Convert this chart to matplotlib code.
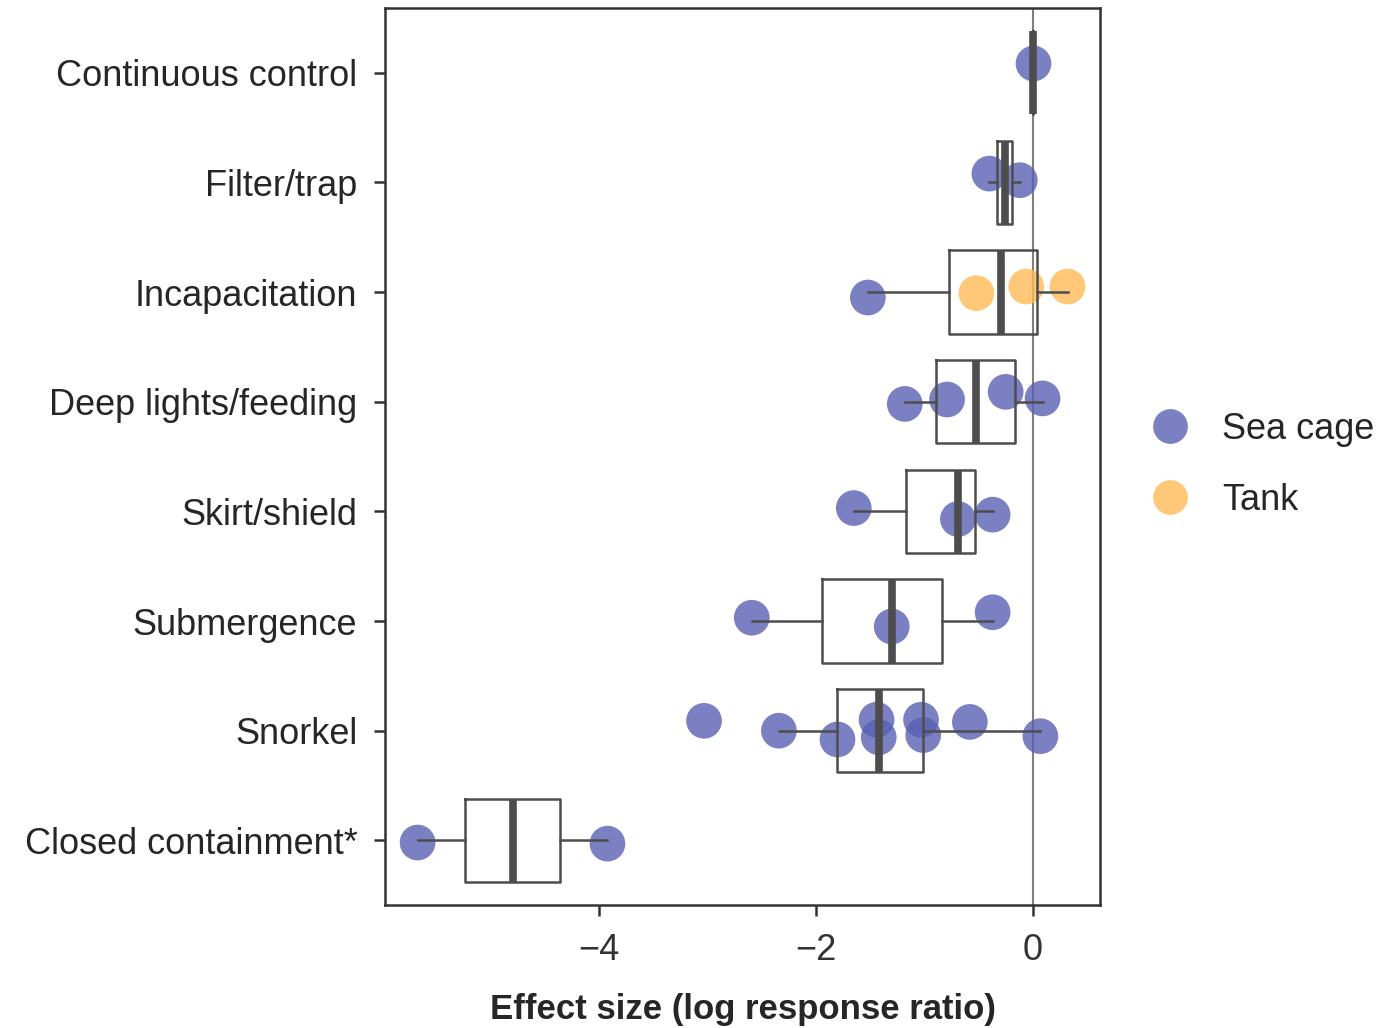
import numpy as np
import matplotlib.pyplot as plt
from matplotlib.lines import Line2D

plt.rcParams['font.family'] = ['Liberation Sans', 'DejaVu Sans']

# categories top to bottom
categories = ["Continuous control", "Filter/trap", "Incapacitation", "Deep lights/feeding",
              "Skirt/shield", "Submergence", "Snorkel", "Closed containment*"]

# effect sizes per category
values = {
    "Continuous control": [0.0],
    "Filter/trap": [-0.40, -0.12],
    "Incapacitation": [-1.52, -0.52, -0.06, 0.32],
    "Deep lights/feeding": [-1.18, -0.79, -0.25, 0.09],
    "Skirt/shield": [-1.65, -0.69, -0.37],
    "Submergence": [-2.59, -1.30, -0.37],
    "Snorkel": [-3.03, -2.34, -1.80, -1.44, -1.42, -1.03, -1.01, -0.58, 0.07],
    "Closed containment*": [-5.67, -3.92],
}
# study setting for each point
setting = {
    "Continuous control": ["Sea cage"],
    "Filter/trap": ["Sea cage", "Sea cage"],
    "Incapacitation": ["Sea cage", "Tank", "Tank", "Tank"],
    "Deep lights/feeding": ["Sea cage"] * 4,
    "Skirt/shield": ["Sea cage"] * 3,
    "Submergence": ["Sea cage"] * 3,
    "Snorkel": ["Sea cage"] * 9,
    "Closed containment*": ["Sea cage"] * 2,
}
# strip jitter as seen in the picture (category units)
jitter = {
    "Continuous control": [-0.09],
    "Filter/trap": [-0.08, -0.02],
    "Incapacitation": [0.05, 0.01, -0.05, -0.05],
    "Deep lights/feeding": [0.02, -0.02, -0.09, -0.03],
    "Skirt/shield": [-0.03, 0.07, 0.03],
    "Submergence": [-0.03, 0.05, -0.08],
    "Snorkel": [-0.09, 0.0, 0.08, -0.10, 0.06, -0.10, 0.04, -0.08, 0.05],
    "Closed containment*": [0.02, 0.03],
}
groups = ["Sea cage", "Tank"]
colors = {"Sea cage": "#5a60b3", "Tank": "#ffba56"}

fig = plt.figure(figsize=(13.86, 10.28), dpi=100)
ax = fig.add_axes([0.2778, 0.1196, 0.5159, 0.8726])

ax.axvline(0, color="#808080", lw=1.5, zorder=0)

for i, cat in enumerate(categories):
    xs = np.array(values[cat])
    ys = i + np.array(jitter[cat])
    cs = [colors[s] for s in setting[cat]]
    ax.scatter(xs, ys, s=660, c=cs, alpha=0.8, linewidths=0, zorder=2)

ax.boxplot([values[c] for c in categories], positions=range(len(categories)),
           vert=False, widths=0.76, showfliers=False, showcaps=False,
           boxprops=dict(color="#4d4d4d", lw=1.8),
           whiskerprops=dict(color="#4d4d4d", lw=1.8),
           medianprops=dict(color="#4d4d4d", lw=5.5),
           zorder=3)

ax.set_xlim(-5.97, 0.62)
ax.set_ylim(7.59, -0.59)
ax.set_yticks(range(len(categories)))
ax.set_yticklabels(categories)
ax.set_xticks([-4, -2, 0])
ax.set_xticklabels(["\u22124", "\u22122", "0"])
ax.tick_params(axis="both", labelsize=26, colors="#333333", length=8, width=1.8, pad=12)
ax.tick_params(axis="y", labelcolor="#262626")
for sp in ax.spines.values():
    sp.set_color("#333333")
    sp.set_linewidth(1.8)
ax.set_xlabel("Effect size (log response ratio)", fontsize=25, fontweight="bold",
              color="#262626", labelpad=18)

handles = [Line2D([], [], ls="", marker="o", markersize=25, markeredgewidth=0,
                  color=colors[g], alpha=0.8) for g in groups]
fig.legend(handles, groups, loc="center left", bbox_to_anchor=(0.818, 0.548),
           frameon=False, fontsize=26, handletextpad=0.45, labelspacing=1.0,
           borderaxespad=0, borderpad=0, labelcolor="#262626")

fig.savefig("out.png", dpi=100)
